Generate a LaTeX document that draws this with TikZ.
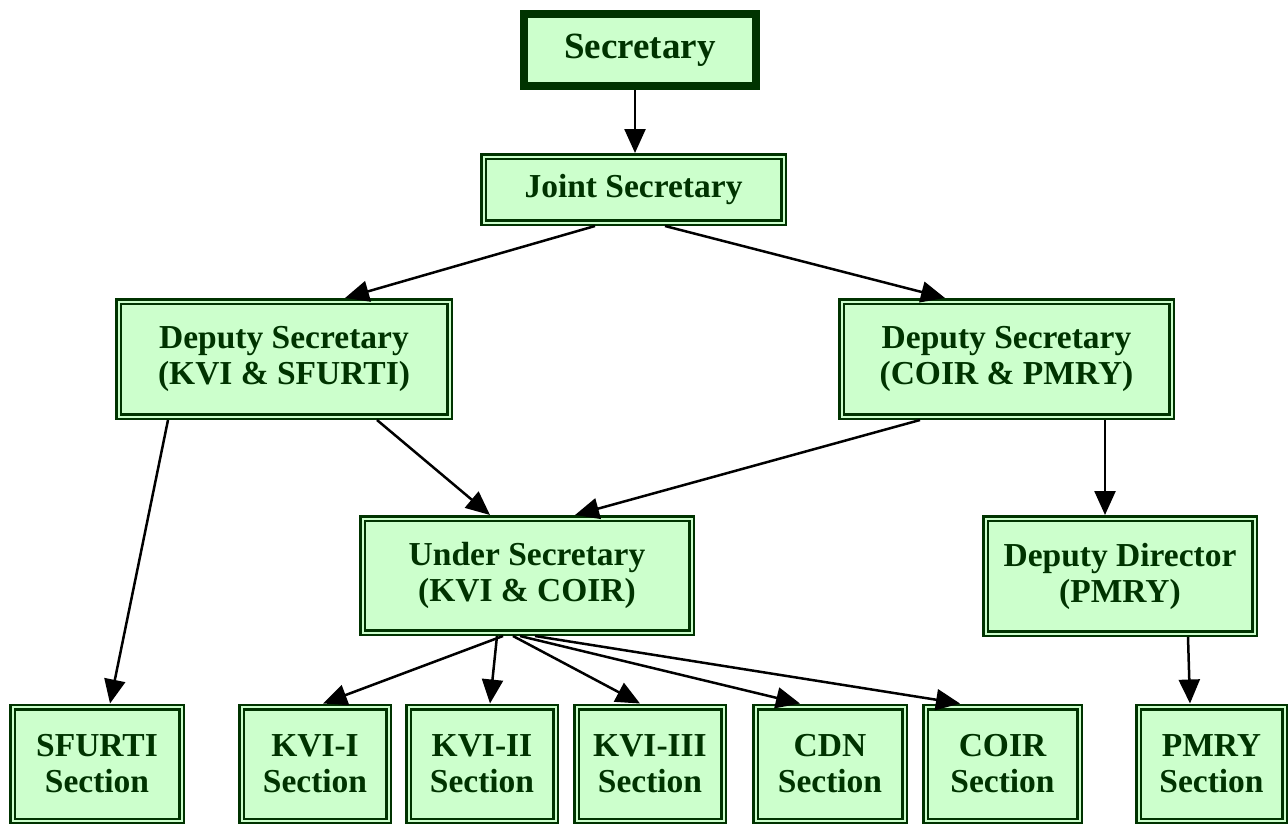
\documentclass[tikz,border=0pt]{standalone}
\usepackage{fontspec}
\setmainfont{Liberation Serif}
\usetikzlibrary{arrows.meta}
\definecolor{boxfill}{HTML}{CCFFCC}
\definecolor{boxline}{HTML}{003300}
\tikzset{
  orgbox/.style={draw=boxline, fill=boxfill, line width=2.5pt, double=boxfill, double distance=2pt,
    rectangle, inner sep=0pt, outer sep=3.5pt, align=center, text=boxline,
    font=\fontsize{33.5}{36}\selectfont\bfseries},
  topbox/.style={draw=boxline, fill=boxfill, line width=8pt, rectangle, inner sep=0pt, outer sep=4pt,
    align=center, text=boxline, font=\fontsize{37}{40}\selectfont\bfseries},
  link/.style={line width=2.5pt, -{Triangle[length=24pt,width=21pt]}}
}
\begin{document}
\begin{tikzpicture}[x=1pt,y=-1pt]
\fill[white] (0,0) rectangle (1288,823);
\clip (0,0) rectangle (1288,823);
\useasboundingbox (0,0) rectangle (1288,823);
\node[topbox, minimum width=232pt, minimum height=72pt] (sec) at (640,50) {Secretary};
\node[orgbox, minimum width=300pt, minimum height=66pt] (js) at (633.5,189.5) {Joint Secretary};
\node[orgbox, minimum width=331pt, minimum height=115pt] (dsl) at (284,359) {Deputy Secretary\\(KVI \& SFURTI)};
\node[orgbox, minimum width=330pt, minimum height=115pt] (dsr) at (1006.5,359) {Deputy Secretary\\(COIR \& PMRY)};
\node[orgbox, minimum width=329pt, minimum height=114pt] (us) at (527,575.5) {Under Secretary\\(KVI \& COIR)};
\node[orgbox, minimum width=269pt, minimum height=115pt] (dd) at (1120,576) {Deputy Director\\(PMRY)};
\node[orgbox, minimum width=169pt, minimum height=114pt] (sfurti) at (97,764) {SFURTI\\Section};
\node[orgbox, minimum width=147pt, minimum height=114pt] (kvi1) at (315,764) {KVI-I\\Section};
\node[orgbox, minimum width=147pt, minimum height=114pt] (kvi2) at (482,764) {KVI-II\\Section};
\node[orgbox, minimum width=147pt, minimum height=114pt] (kvi3) at (650,764) {KVI-III\\Section};
\node[orgbox, minimum width=149pt, minimum height=114pt] (cdn) at (830,764) {CDN\\Section};
\node[orgbox, minimum width=154pt, minimum height=114pt] (coir) at (1002.5,764) {COIR\\Section};
\node[orgbox, minimum width=146pt, minimum height=114pt] (pmry) at (1211.5,764) {PMRY\\Section};
\draw[link] ([xshift=-5pt]sec.south) -- ([xshift=1.5pt]js.north);
\draw[link] ([xshift=-38.5pt]js.south) -- ([xshift=61pt]dsl.north);
\draw[link] ([xshift=31.5pt]js.south) -- ([xshift=-61.5pt]dsr.north);
\draw[link] ([xshift=-116pt]dsl.south) -- ([xshift=13pt]sfurti.north);
\draw[link] ([xshift=93pt]dsl.south) -- ([xshift=-37pt]us.north);
\draw[link] ([xshift=-86.5pt]dsr.south) -- ([xshift=48pt]us.north);
\draw[link] ([xshift=98.5pt]dsr.south) -- ([xshift=-15pt]dd.north);
\draw[link] ([xshift=68pt]dd.south) -- ([xshift=-21.5pt]pmry.north);
\draw[link] ([xshift=-24pt]us.south) -- ([xshift=8pt]kvi1.north);
\draw[link] ([xshift=-30pt]us.south) -- ([xshift=8pt]kvi2.north);
\draw[link] ([xshift=-14pt]us.south) -- ([xshift=-10pt]kvi3.north);
\draw[link] ([xshift=-7pt]us.south) -- ([xshift=-30pt]cdn.north);
\draw[link] ([xshift=8pt]us.south) -- ([xshift=-42.5pt]coir.north);
\end{tikzpicture}
\end{document}
